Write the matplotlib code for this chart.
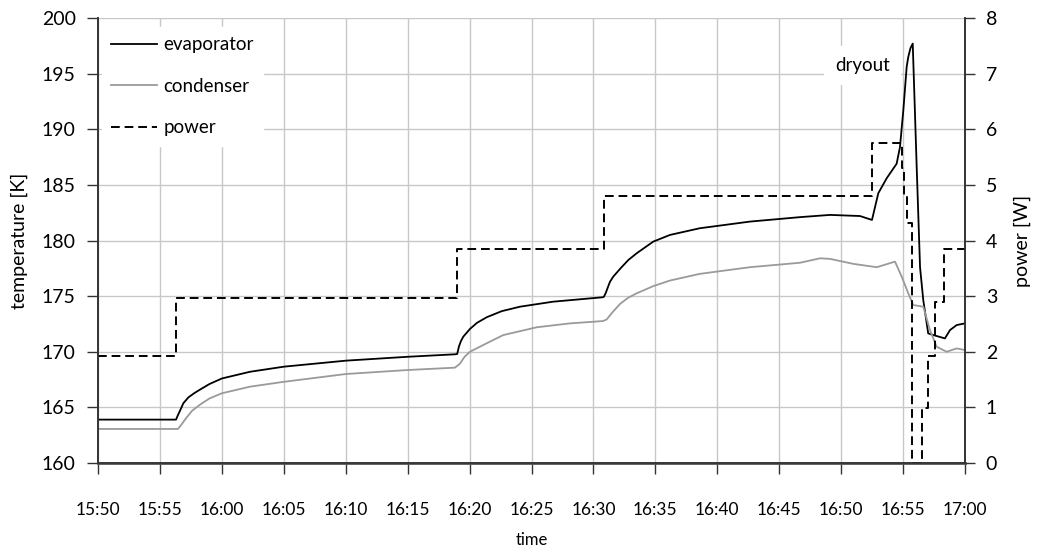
import matplotlib
matplotlib.use("Agg")
import matplotlib.pyplot as plt

plt.rcParams['font.family'] = ['Lato', 'DejaVu Sans']

# minutes after 15:50
evap_t = [0.0, 6.30, 6.45, 6.62, 6.89, 7.3, 7.8, 8.24, 9.0, 10.01, 12.27, 15.02, 20.02, 25.03, 28.82, 29.0,
          29.15, 29.3, 29.49, 30.03, 30.6, 31.38, 32.6, 34.07, 36.74, 40.77, 40.85, 41.0, 41.2, 41.34, 41.6, 42.15,
          42.82, 43.49, 44.83, 46.18, 48.58, 52.64, 56.68, 59.10, 61.52, 62.49, 63.00, 63.68,
          64.48, 64.75, 65.02, 65.29, 65.42, 65.60, 65.78, 66.10, 66.37, 66.63, 67.03, 67.44,
          68.38, 68.79, 69.33, 70.0]
evap_T = [163.9, 163.9, 164.3, 164.7, 165.37, 165.9, 166.3, 166.6, 167.1, 167.6, 168.2, 168.66, 169.2, 169.55, 169.77, 169.8,
          170.5, 170.95, 171.35, 172.05, 172.6, 173.1, 173.65, 174.05, 174.5, 174.9, 174.95, 175.3, 175.9, 176.3, 176.75, 177.45,
          178.25, 178.85, 179.9, 180.5, 181.1, 181.7, 182.1, 182.3, 182.2, 181.85, 184.25, 185.6,
          186.9, 188.4, 191.7, 195.6, 196.5, 197.3, 197.7, 186.6, 177.6, 174.65, 171.65, 171.5,
          171.2, 171.95, 172.4, 172.55]

cond_t = [0.0, 6.46, 6.8, 7.16, 7.6, 8.24, 9.0, 10.01, 12.27, 15.02, 20.02, 25.03, 28.82, 29.2, 29.6, 30.03,
          31.38, 32.72, 35.42, 38.11, 40.77, 41.07, 41.5, 42.15, 42.8, 43.49, 44.83, 46.18, 48.58,
          52.64, 56.68, 58.29, 59.10, 60.98, 62.87, 64.35, 64.89, 65.42, 65.82, 66.63, 67.17,
          67.71, 68.52, 69.33, 70.0]
cond_T = [163.06, 163.06, 163.55, 164.1, 164.7, 165.25, 165.8, 166.27, 166.86, 167.3, 168.0, 168.36, 168.57, 168.9, 169.55, 170.0,
          170.76, 171.5, 172.2, 172.55, 172.76, 172.9, 173.5, 174.3, 174.85, 175.25, 175.9, 176.4, 177.0,
          177.6, 178.0, 178.4, 178.35, 177.9, 177.6, 178.1, 176.75, 175.25, 174.2, 174.05, 171.95,
          170.45, 170.0, 170.3, 170.15]

power_t = [0.0, 6.30, 28.98, 40.85, 62.49, 64.91, 65.1, 65.32, 65.72, 66.53, 67.01, 67.58, 68.30, 70.0]
power_W = [1.92, 2.97, 3.85, 4.80, 5.76, 5.30, 4.80, 4.32, 0.0, 0.99, 1.92, 2.90, 3.85, 3.85]

tick_min = list(range(0, 71, 5))
tick_labels = ['15:50', '15:55', '16:00', '16:05', '16:10', '16:15', '16:20', '16:25',
               '16:30', '16:35', '16:40', '16:45', '16:50', '16:55', '17:00']

fig = plt.figure(figsize=(10.4, 5.54), dpi=100)
ax = fig.add_axes([98/1040, 1 - 463/554, (965 - 98)/1040, (463 - 18)/554])
ax2 = ax.twinx()

grid_c = '#c8c8c8'
ax.set_xlim(0, 70)
ax.set_ylim(160, 200)
ax2.set_ylim(0, 8)
ax.set_xticks(tick_min)
ax.set_xticklabels(tick_labels)
ax.set_yticks(range(160, 201, 5))
ax2.set_yticks(range(0, 9))
ax.grid(True, color=grid_c, linewidth=1.0)
ax.set_axisbelow(True)

l1, = ax.plot(evap_t, evap_T, color='black', linewidth=1.3, label='evaporator')
l2, = ax.plot(cond_t, cond_T, color='#9a9a9a', linewidth=1.3, label='condenser')
l3, = ax2.plot(power_t, power_W, color='black', linewidth=1.4, linestyle=(0, (4.5, 2.5)),
               drawstyle='steps-post', label='power')

for a in (ax, ax2):
    a.spines['top'].set_visible(False)
    for s in ('left', 'right', 'bottom'):
        a.spines[s].set_color('#333333')
        a.spines[s].set_linewidth(1.2)
ax.spines['bottom'].set_linewidth(2.0)
ax.spines['bottom'].set_color('#555555')

ax.tick_params(axis='x', direction='out', length=8, width=1, color='#333333', pad=20, labelsize=12.5)
ax.tick_params(axis='y', direction='out', length=8, width=1, color='#333333', pad=8, labelsize=14)
ax2.tick_params(axis='y', direction='out', length=7, width=1, color='#333333', pad=8, labelsize=14)

ax.set_xlabel('time', fontsize=12, labelpad=10)
ax.set_ylabel('temperature [K]', fontsize=14, labelpad=10)
ax2.set_ylabel('power [W]', fontsize=14, labelpad=12)

leg = ax2.legend(handles=[l1, l2, l3], loc='upper left', fontsize=13.5, frameon=True,
                 facecolor='white', edgecolor='white', framealpha=1, fancybox=False,
                 handlelength=2.45, handletextpad=0.32, labelspacing=1.3,
                 borderaxespad=0.0, borderpad=0.5,
                 bbox_to_anchor=(4 / 867, 1 - 9 / 445))

ax2.text(61.7, 7.15, 'dryout', fontsize=13.5, ha='center', va='center',
         bbox=dict(facecolor='white', edgecolor='none', pad=8))

fig.savefig('out.png', dpi=100)
